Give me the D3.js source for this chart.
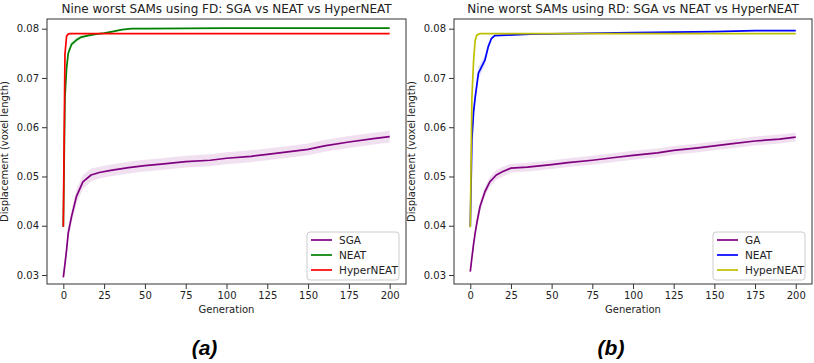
<!DOCTYPE html>
<html>
<head>
<meta charset="utf-8">
<script src="https://cdn.jsdelivr.net/npm/d3@7"></script>
<style>
  body { margin: 0; background: #fff; }
  svg { display: block; font-family: "DejaVu Sans", sans-serif; }
</style>
</head>
<body>
<svg width="814" height="363"></svg>
<script>
// Generations
const gensA = [0, 1, 2, 3, 5, 8, 12, 17, 22, 30, 40, 50, 60, 75, 90, 100, 115, 125, 140, 150, 160, 175, 190, 200];
const sgaFD = [0.0295, 0.0322, 0.0351, 0.0385, 0.0418, 0.0459, 0.0489, 0.0503, 0.0508, 0.0513, 0.0518, 0.0522, 0.0525, 0.0530, 0.0533, 0.0537, 0.0541, 0.0545, 0.0551, 0.0555, 0.0562, 0.0570, 0.0577, 0.0581];
const sgaFDsd = [0.0006, 0.0008, 0.0010, 0.0012, 0.0014, 0.0015, 0.0014, 0.0013, 0.0012, 0.0012, 0.0012, 0.0012, 0.0012, 0.0012, 0.0012, 0.0012, 0.0012, 0.0012, 0.0012, 0.0012, 0.0012, 0.0012, 0.0012, 0.0012];

const gensN = [0, 1, 2, 3, 5, 8, 11, 15, 20, 25, 30, 36, 42, 50, 100, 150, 200];
const neatFD = [0.0398, 0.0660, 0.0720, 0.0750, 0.0768, 0.0777, 0.0783, 0.0786, 0.0789, 0.0791, 0.0794, 0.0798, 0.0800, 0.0800, 0.0801, 0.0801, 0.0801];
const neatFDsd = [0.0000, 0.0015, 0.0012, 0.0008, 0.0006, 0.0005, 0.0004, 0.0003, 0.0002, 0.0002, 0.0002, 0.0001, 0.0001, 0.0001, 0.0000, 0.0000, 0.0000];

const gensH = [0, 1, 2, 3, 4, 6, 10, 50, 100, 150, 200];
const hyperFD = [0.0398, 0.0748, 0.0785, 0.0789, 0.0790, 0.0790, 0.0790, 0.0790, 0.0790, 0.0790, 0.0790];
const hyperRD = [0.0397, 0.0660, 0.0733, 0.0776, 0.0787, 0.0790, 0.0790, 0.0790, 0.0790, 0.0790, 0.0790];

const gensB = [0, 1, 2, 3, 4, 6, 9, 12, 16, 20, 25, 35, 50, 60, 75, 90, 100, 115, 125, 140, 150, 160, 175, 190, 200];
const gaRD = [0.0307, 0.0335, 0.0362, 0.0385, 0.0405, 0.0439, 0.0469, 0.0489, 0.0503, 0.0510, 0.0517, 0.0519, 0.0524, 0.0528, 0.0533, 0.0539, 0.0543, 0.0548, 0.0553, 0.0558, 0.0562, 0.0566, 0.0572, 0.0576, 0.0580];
const gaRDsd = [0.0006, 0.0007, 0.0008, 0.0009, 0.0010, 0.0010, 0.0010, 0.0010, 0.0010, 0.0010, 0.0009, 0.0009, 0.0009, 0.0009, 0.0009, 0.0009, 0.0009, 0.0009, 0.0009, 0.0009, 0.0009, 0.0009, 0.0009, 0.0009, 0.0009];

const gensNB = [0, 1, 2, 3, 5, 7, 9, 11, 13, 15, 22, 37, 60, 100, 150, 175, 200];
const neatRD = [0.0398, 0.0574, 0.0630, 0.0660, 0.0710, 0.0723, 0.0736, 0.0763, 0.0780, 0.0786, 0.0787, 0.0789, 0.0790, 0.0792, 0.0794, 0.0796, 0.0796];
const neatRDsd = [0.0000, 0.0015, 0.0015, 0.0014, 0.0012, 0.0011, 0.0010, 0.0008, 0.0004, 0.0002, 0.0001, 0.0001, 0.0001, 0.0001, 0.0001, 0.0001, 0.0001];

const yTicks = [0.03, 0.04, 0.05, 0.06, 0.07, 0.08];
const xTicks = [0, 25, 50, 75, 100, 125, 150, 175, 200];

const panels = [
  {
    left: 47, right: 406, title: "Nine worst SAMs using FD: SGA vs NEAT vs HyperNEAT", tag: "(a)",
    series: [
      { name: "SGA", color: "purple", gens: gensA, vals: sgaFD, sd: sgaFDsd },
      { name: "NEAT", color: "green", gens: gensN, vals: neatFD, sd: neatFDsd },
      { name: "HyperNEAT", color: "red", gens: gensH, vals: hyperFD, sd: null }
    ]
  },
  {
    left: 454, right: 812, title: "Nine worst SAMs using RD: SGA vs NEAT vs HyperNEAT", tag: "(b)",
    series: [
      { name: "GA", color: "purple", gens: gensB, vals: gaRD, sd: gaRDsd },
      { name: "NEAT", color: "blue", gens: gensNB, vals: neatRD, sd: neatRDsd },
      { name: "HyperNEAT", color: "#bfbf00", gens: gensH, vals: hyperRD, sd: null }
    ]
  }
];

const svg = d3.select("svg");
const plotTop = 19, plotBottom = 284;

panels.forEach((p) => {
  const x = d3.scaleLinear().domain([-10, 210]).range([p.left, p.right]);
  const y = d3.scaleLinear().domain([0.03, 0.08]).range([275, 28.7]);
  const g = svg.append("g");

  // bands then lines, drawn in series order
  p.series.forEach((s) => {
    const pts = s.gens.map((d, i) => ({ g: d, v: s.vals[i], sd: s.sd ? s.sd[i] : 0 }));
    if (s.sd) {
      g.append("path")
        .datum(pts)
        .attr("fill", s.color)
        .attr("fill-opacity", 0.12)
        .attr("d", d3.area().x((d) => x(d.g)).y0((d) => y(d.v - d.sd)).y1((d) => y(d.v + d.sd)));
    }
    g.append("path")
      .datum(pts)
      .attr("fill", "none")
      .attr("stroke", s.color)
      .attr("stroke-width", 1.7)
      .attr("stroke-linejoin", "round")
      .attr("d", d3.line().x((d) => x(d.g)).y((d) => y(d.v)));
  });

  // frame
  g.append("rect")
    .attr("x", p.left).attr("y", plotTop)
    .attr("width", p.right - p.left).attr("height", plotBottom - plotTop)
    .attr("fill", "none").attr("stroke", "#333").attr("stroke-width", 1);

  // axes
  const xa = g.append("g").attr("transform", `translate(0,${plotBottom})`)
    .call(d3.axisBottom(x).tickValues(xTicks).tickSize(5).tickPadding(3).tickFormat(d3.format("d")));
  const ya = g.append("g").attr("transform", `translate(${p.left},0)`)
    .call(d3.axisLeft(y).tickValues(yTicks).tickSize(5).tickPadding(3).tickFormat(d3.format(".2f")));
  [xa, ya].forEach((a) => {
    a.select(".domain").remove();
    a.selectAll("line").attr("stroke", "#333");
    a.selectAll("text").attr("fill", "#222").style("font-size", "10px").style("font-family", "DejaVu Sans");
  });

  g.append("text")
    .attr("x", (p.left + p.right) / 2).attr("y", 13)
    .attr("text-anchor", "middle").style("font-size", "12px").attr("fill", "#222")
    .text(p.title);

  g.append("text")
    .attr("x", (x(0) + x(200)) / 2).attr("y", 313)
    .attr("text-anchor", "middle").style("font-size", "10px").attr("fill", "#222")
    .text("Generation");

  g.append("text")
    .attr("transform", `translate(${p.left - 39},${(plotTop + plotBottom) / 2}) rotate(-90)`)
    .attr("text-anchor", "middle").style("font-size", "10px").attr("fill", "#222")
    .text("Displacement (voxel length)");

  g.append("text")
    .attr("x", (x(0) + x(200)) / 2 - 22).attr("y", 355)
    .attr("text-anchor", "middle")
    .style("font-family", "Liberation Sans, Arial, sans-serif")
    .style("font-size", "21px").style("font-weight", "bold").style("font-style", "italic")
    .attr("fill", "#000")
    .text(p.tag);

  // legend
  const lx = p.right - 99, ly = 232;
  const leg = g.append("g").attr("transform", `translate(${lx},${ly})`);
  leg.append("rect").attr("width", 92).attr("height", 48).attr("rx", 3)
    .attr("fill", "#fff").attr("fill-opacity", 0.8).attr("stroke", "#ccc");
  p.series.forEach((s, i) => {
    leg.append("line").attr("x1", 4).attr("x2", 25).attr("y1", 8 + i * 15).attr("y2", 8 + i * 15)
      .attr("stroke", s.color).attr("stroke-width", 1.7);
    leg.append("text").attr("x", 32).attr("y", 11.5 + i * 15)
      .style("font-size", "10.5px").attr("fill", "#222").text(s.name);
  });
});
</script>
</body>
</html>
